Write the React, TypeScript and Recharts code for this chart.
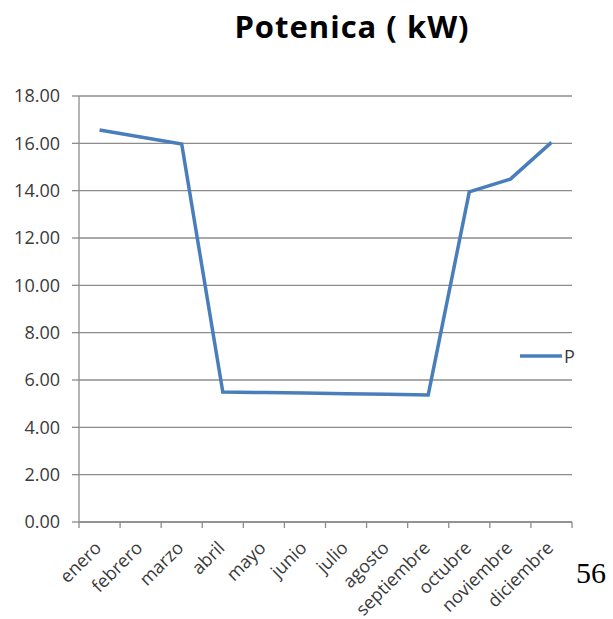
import { LineChart, Line, XAxis, YAxis, CartesianGrid, Legend } from 'recharts'

// monthly power readings, kW
const months = [
  'enero', 'febrero', 'marzo', 'abril', 'mayo', 'junio',
  'julio', 'agosto', 'septiembre', 'octubre', 'noviembre', 'diciembre'
]
const potencia = [16.56, 16.27, 15.97, 5.49, 5.47, 5.45, 5.42, 5.4, 5.37, 13.95, 14.49, 16.04]
const yTicks = [0, 2, 4, 6, 8, 10, 12, 14, 16, 18]

// each month sits in the middle of its slot; whole numbers are the slot edges
const data = months.map((m, i) => ({ month: m, pos: i + 0.5, P: potencia[i] }))
const xTicks = [0, ...months.flatMap((_, i) => [i + 0.5, i + 1])]

const BLUE = '#4a7ebb'
const GRID = '#8c8c8c'
const TEXT = '#3a3a3a'
const FONT = '"Open Sans", Lato, sans-serif'

const MonthTick = (props: any) => {
  const { x, y, payload } = props
  const v: number = payload.value
  if (Number.isInteger(v)) {
    // edge mark below the axis
    return <line x1={x} y1={y} x2={x} y2={y + 6} stroke={GRID} strokeWidth={1.3} />
  }
  const tx = x + 3
  const ty = y + 27
  return (
    <text
      x={tx}
      y={ty}
      textAnchor="end"
      transform={`rotate(-45, ${tx}, ${ty})`}
      fontSize={18}
      fontFamily={FONT}
      fill={TEXT}
    >
      {months[Math.floor(v)]}
    </text>
  )
}

const LegendBox = () => (
  <div style={{ display: 'flex', alignItems: 'center', fontFamily: FONT, fontSize: 18, color: TEXT }}>
    <svg width={44} height={6}>
      <line x1={1} y1={3} x2={43} y2={3} stroke={BLUE} strokeWidth={3.5} />
    </svg>
    <span style={{ marginLeft: 1 }}>P</span>
  </div>
)

export default function App() {
  return (
    <div style={{ position: 'absolute', left: 0, top: 0, width: 613, height: 619, background: '#fff' }}>
      <div
        style={{
          position: 'absolute',
          left: 0,
          width: 704,
          top: 5,
          textAlign: 'center',
          fontFamily: FONT,
          fontWeight: 700,
          fontSize: 31,
          letterSpacing: 1,
          color: '#000'
        }}
      >
        Potenica ( kW)
      </div>
      <LineChart
        width={613}
        height={619}
        data={data}
        margin={{ top: 96, right: 41, bottom: 0, left: 0 }}
      >
        <CartesianGrid vertical={false} stroke={GRID} strokeWidth={1.3} />
        <XAxis
          type="number"
          dataKey="pos"
          domain={[0, 12]}
          ticks={xTicks}
          interval={0}
          height={97}
          stroke={GRID}
          strokeWidth={1.3}
          tickLine={false}
          tickSize={0}
          tickMargin={0}
          tick={<MonthTick />}
        />
        <YAxis
          domain={[0, 18]}
          ticks={yTicks}
          width={79}
          stroke={GRID}
          strokeWidth={1.3}
          tickSize={7}
          tickMargin={12}
          tickFormatter={(v: number) => v.toFixed(2)}
          tick={{ fontSize: 18, fontFamily: FONT, fill: TEXT }}
        />
        <Legend
          align="center"
          verticalAlign="middle"
          content={<LegendBox />}
          wrapperStyle={{ left: 519, top: 344, width: 80 }}
        />
        <Line
          dataKey="P"
          type="linear"
          stroke={BLUE}
          strokeWidth={3.5}
          dot={false}
          isAnimationActive={false}
        />
      </LineChart>
      <div
        style={{
          position: 'absolute',
          left: 576,
          top: 556,
          fontFamily: '"Liberation Serif", serif',
          fontSize: 30,
          color: '#000'
        }}
      >
        56
      </div>
    </div>
  )
}
